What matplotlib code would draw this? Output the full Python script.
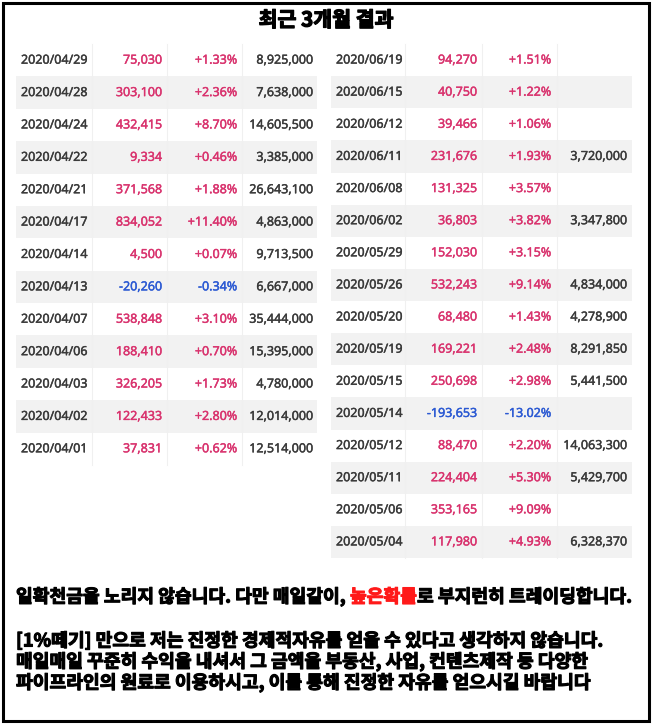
import matplotlib
matplotlib.use("Agg")
import matplotlib.pyplot as plt
import matplotlib.patheffects as pe
from matplotlib.patches import Rectangle

plt.rcParams['font.family'] = ['Noto Sans', 'DejaVu Sans']

W, H = 652, 724

title = "최근 3개월 결과"

# left table (april)
left_dates = ["2020/04/29", "2020/04/28", "2020/04/24", "2020/04/22", "2020/04/21",
              "2020/04/17", "2020/04/14", "2020/04/13", "2020/04/07", "2020/04/06",
              "2020/04/03", "2020/04/02", "2020/04/01"]
left_profit = [75030, 303100, 432415, 9334, 371568, 834052, 4500, -20260,
               538848, 188410, 326205, 122433, 37831]
left_pct = [1.33, 2.36, 8.70, 0.46, 1.88, 11.40, 0.07, -0.34, 3.10, 0.70, 1.73, 2.80, 0.62]
left_amount = [8925000, 7638000, 14605500, 3385000, 26643100, 4863000, 9713500,
               6667000, 35444000, 15395000, 4780000, 12014000, 12514000]

# right table (may - june)
right_dates = ["2020/06/19", "2020/06/15", "2020/06/12", "2020/06/11", "2020/06/08",
               "2020/06/02", "2020/05/29", "2020/05/26", "2020/05/20", "2020/05/19",
               "2020/05/15", "2020/05/14", "2020/05/12", "2020/05/11", "2020/05/06",
               "2020/05/04"]
right_profit = [94270, 40750, 39466, 231676, 131325, 36803, 152030, 532243, 68480,
                169221, 250698, -193653, 88470, 224404, 353165, 117980]
right_pct = [1.51, 1.22, 1.06, 1.93, 3.57, 3.82, 3.15, 9.14, 1.43, 2.48, 2.98,
             -13.02, 2.20, 5.30, 9.09, 4.93]
right_amount = [None, None, None, 3720000, None, 3347800, None, 4834000, 4278900,
                8291850, 5441500, None, 14063300, 5429700, None, 6328370]

line1 = ["일확천금을 노리지 않습니다. 다만 매일같이,", "높은확률", "로 부지런히 트레이딩합니다."]
para = ["[1%떼기] 만으로 저는 진정한 경제적자유를 얻을 수 있다고 생각하지 않습니다.",
        "매일매일 꾸준히 수익을 내셔서 그 금액을 부동산, 사업, 컨텐츠제작 등 다양한",
        "파이프라인의 원료로 이용하시고, 이를 통해 진정한 자유를 얻으시길 바랍니다"]

PINK = "#d9336e"
BLUE = "#2c5ad3"
GRAY = "#3a3a3a"
SHADE = "#f2f2f2"
KR = ['Noto Sans CJK KR', 'DejaVu Sans']
TFS = 9


def heavy(color, lw=0.8):
    return [pe.withStroke(linewidth=lw, foreground=color)]


def draw_table(ax, x0, x1, y0, y1, dates, profit, pct, amount, cols, seps):
    n = len(dates)
    rh = (y1 - y0) / n
    for i in range(n):
        top = y0 + i * rh
        if i % 2 == 1:
            ax.add_patch(Rectangle((x0, top), x1 - x0, rh, color=SHADE, lw=0, zorder=1))
    for s in seps:
        ax.plot([s, s], [y0, y1], color="#f0f0f0", lw=0.8, zorder=1.5)
    kw = dict(va="center", fontsize=TFS, zorder=3)
    for i in range(n):
        cy = y0 + (i + 0.5) * rh
        c = PINK if profit[i] >= 0 else BLUE
        ax.text(cols[0], cy, dates[i], ha="left", color=GRAY, path_effects=heavy(GRAY, 0.3), **kw)
        ax.text(cols[1], cy, f"{profit[i]:,}", ha="right", color=c, path_effects=heavy(c, 0.3), **kw)
        ax.text(cols[2], cy, f"{pct[i]:+.2f}%", ha="right", color=c, path_effects=heavy(c, 0.3), **kw)
        if amount[i] is not None:
            ax.text(cols[3], cy, f"{amount[i]:,}", ha="right", color=GRAY,
                    path_effects=heavy(GRAY, 0.3), **kw)


fig = plt.figure(figsize=(W / 100, H / 100), dpi=100)
ax = fig.add_axes([0, 0, 1, 1])
ax.set_xlim(0, W)
ax.set_ylim(H, 0)
ax.axis("off")

ax.add_patch(Rectangle((3, 3), 646, 718, fill=False, ec="black", lw=2.2, zorder=5))

ax.text(326, 20, title, ha="center", va="center", fontsize=14.8, fontweight="bold",
        family=KR, color="black", path_effects=heavy("black", 0.9))

draw_table(ax, 16, 317, 44, 465, left_dates, left_profit, left_pct, left_amount,
           [21, 162, 237, 313], [92, 167, 242])
draw_table(ax, 331, 632, 44, 558, right_dates, right_profit, right_pct, right_amount,
           [336, 477, 551, 627], [405, 482, 557])

# first line with the red highlight
fig.canvas.draw()
rend = fig.canvas.get_renderer()
inv = ax.transData.inverted()
fs = 13.1


def width_px(s):
    t = ax.text(0, 0, s, fontsize=fs, fontweight="bold", family=KR)
    w = t.get_window_extent(rend).width
    t.remove()
    return w


space = width_px("가 가") - width_px("가가")
x = 16
y = 597
colors = ["black", "#ff1a1a", "black"]
for k, seg in enumerate(line1):
    t = ax.text(x, y, seg, ha="left", va="center", fontsize=fs, fontweight="bold",
                family=KR, color=colors[k], path_effects=heavy(colors[k]))
    bb = t.get_window_extent(rend)
    x = inv.transform((bb.x1, bb.y0))[0]
    if k == 0:
        x += space

for j, s in enumerate(para):
    ax.text(16, 641 + j * 21, s, ha="left", va="center", fontsize=fs, fontweight="bold",
            family=KR, color="black", path_effects=heavy("black"))

fig.savefig("out.png", dpi=100, facecolor="white")
